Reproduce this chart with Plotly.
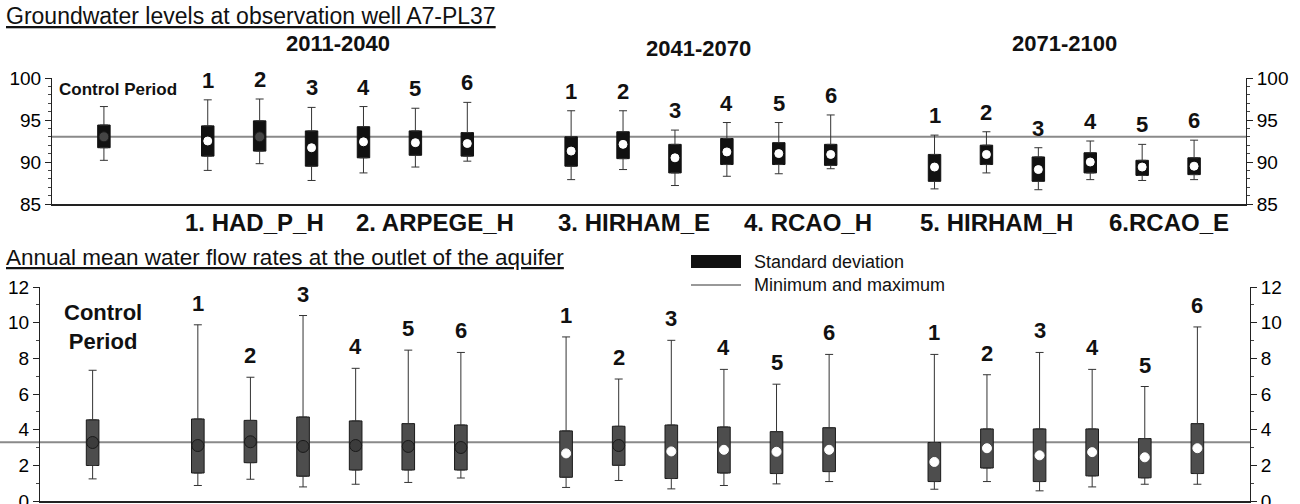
import plotly.graph_objects as go

# ---------------- data ----------------
periods = ["2011-2040", "2041-2070", "2071-2100"]
model_names = ["1. HAD_P_H", "2. ARPEGE_H", "3. HIRHAM_E", "4. RCAO_H", "5. HIRHAM_H", "6.RCAO_E"]
series_labels = ["Control Period",
                 "1", "2", "3", "4", "5", "6",
                 "1", "2", "3", "4", "5", "6",
                 "1", "2", "3", "4", "5", "6"]
# slot on the category axis (control, gap, 6 models, gap, 6 models, gap, 6 models)
slots = [0, 2, 3, 4, 5, 6, 7, 9, 10, 11, 12, 13, 14, 16, 17, 18, 19, 20, 21]
period_centres = [4.5, 11.45, 18.5]

# Groundwater levels at observation well A7-PL37
gw_max = [96.6, 97.4, 97.5, 96.5, 96.6, 96.4, 97.1, 96.1, 96.1, 93.8, 94.7, 94.7, 95.6, 93.2, 93.6, 91.7, 92.5, 92.1, 92.6]
gw_sd_hi = [94.4, 94.3, 94.9, 93.7, 94.2, 93.7, 93.5, 93.0, 93.6, 92.1, 92.8, 92.3, 92.1, 90.9, 92.0, 90.6, 91.1, 90.2, 90.5]
gw_sd_lo = [91.7, 90.7, 91.3, 89.5, 90.5, 90.8, 90.7, 89.5, 90.4, 88.7, 89.7, 89.7, 89.6, 87.7, 89.7, 87.7, 88.7, 88.4, 88.5]
gw_min = [90.2, 89.0, 89.8, 87.8, 88.7, 89.4, 90.1, 87.9, 89.1, 87.2, 88.3, 88.6, 89.2, 86.8, 88.7, 86.7, 87.9, 87.8, 87.9]
gw_mean = [93.0, 92.5, 93.0, 91.7, 92.4, 92.3, 92.2, 91.3, 92.1, 90.5, 91.2, 91.0, 90.9, 89.4, 90.9, 89.1, 90.0, 89.4, 89.5]
gw_control_mean = 93.0
gw_mean_dark = [1, 0, 1, 0, 0, 0, 0, 0, 0, 0, 0, 0, 0, 0, 0, 0, 0, 0, 0]

# Annual mean water flow rates at the outlet of the aquifer
q_max = [7.33, 9.88, 6.94, 10.4, 7.44, 8.46, 8.33, 9.2, 6.84, 9.01, 7.38, 6.55, 8.22, 8.22, 7.08, 8.33, 7.38, 6.42, 9.76]
q_sd_hi = [4.55, 4.6, 4.52, 4.71, 4.49, 4.34, 4.26, 3.93, 4.19, 4.26, 4.15, 3.89, 4.11, 3.28, 4.04, 4.04, 4.04, 3.5, 4.34]
q_sd_lo = [1.99, 1.57, 2.15, 1.39, 1.74, 1.74, 1.74, 1.33, 2.0, 1.26, 1.57, 1.54, 1.65, 1.09, 1.85, 1.09, 1.41, 1.3, 1.54]
q_min = [1.24, 0.87, 1.22, 0.79, 0.94, 1.04, 1.29, 0.76, 1.15, 0.68, 0.87, 0.96, 1.09, 0.66, 1.09, 0.57, 0.79, 0.94, 0.94]
q_mean = [3.28, 3.11, 3.32, 3.06, 3.11, 3.06, 3.0, 2.67, 3.11, 2.78, 2.87, 2.76, 2.87, 2.19, 2.96, 2.56, 2.74, 2.45, 2.96]
q_control_mean = 3.3
q_mean_dark = [1, 1, 1, 1, 1, 1, 1, 0, 1, 0, 0, 0, 0, 0, 0, 0, 0, 0, 0]

gw_ticks = [85, 90, 95, 100]
q_ticks = [0, 2, 4, 6, 8, 10, 12]

# ---------------- layout helpers ----------------
W, H = 1300, 504
def px(x):
    return x / W
def py(y):
    return 1 - y / H

FONT = "Liberation Sans, Arial, sans-serif"
n = len(slots)

fig = go.Figure()

def add_panel(xa, ya, vmax, hi, lo, vmin, mean, dark, box_color, box_line, whisk_color,
              dark_fill, dark_size, white_size):
    fig.add_trace(go.Bar(x=slots, y=[h - l for h, l in zip(hi, lo)], base=lo, width=0.24,
                         marker=dict(color=box_color, line=dict(color=box_line, width=1)),
                         xaxis=xa, yaxis=ya, showlegend=False, hoverinfo="skip"))
    fig.add_trace(go.Scatter(x=slots, y=hi, mode="markers", marker=dict(size=1, opacity=0),
                             error_y=dict(type="data", symmetric=False,
                                          array=[m - h for m, h in zip(vmax, hi)],
                                          arrayminus=[0] * n, width=4, thickness=1, color=whisk_color),
                             xaxis=xa, yaxis=ya, showlegend=False, hoverinfo="skip"))
    fig.add_trace(go.Scatter(x=slots, y=lo, mode="markers", marker=dict(size=1, opacity=0),
                             error_y=dict(type="data", symmetric=False,
                                          array=[0] * n,
                                          arrayminus=[l - m for l, m in zip(lo, vmin)], width=4,
                                          thickness=1, color=whisk_color),
                             xaxis=xa, yaxis=ya, showlegend=False, hoverinfo="skip"))
    fig.add_trace(go.Scatter(
        x=slots, y=mean, mode="markers",
        marker=dict(color=[dark_fill if d else "#ffffff" for d in dark],
                    size=[dark_size if d else white_size for d in dark],
                    opacity=1,
                    line=dict(color=["#1a1a1a" if d else "#ffffff" for d in dark], width=1)),
        xaxis=xa, yaxis=ya, showlegend=False, hoverinfo="skip"))

add_panel("x", "y", gw_max, gw_sd_hi, gw_sd_lo, gw_min, gw_mean, gw_mean_dark,
          "#111111", "#111111", "#333333", "#454545", 10, 8)
add_panel("x2", "y2", q_max, q_sd_hi, q_sd_lo, q_min, q_mean, q_mean_dark,
          "#4d4d4d", "#1a1a1a", "#333333", "#3c3c3c", 12, 9)

# invisible traces so that right-hand mirrored axes are drawn
fig.add_trace(go.Scatter(x=[slots[0]], y=[gw_control_mean], xaxis="x", yaxis="y3", mode="markers",
                         marker=dict(opacity=0), showlegend=False, hoverinfo="skip"))
fig.add_trace(go.Scatter(x=[slots[0]], y=[q_control_mean], xaxis="x2", yaxis="y4", mode="markers",
                         marker=dict(opacity=0), showlegend=False, hoverinfo="skip"))

tickfont = dict(family=FONT, size=19, color="#000000")

def yax(domain, rng, ticks, minor_dtick, anchor, side="left", overlay=None):
    d = dict(domain=domain, range=rng, tickvals=ticks, ticktext=[str(t) for t in ticks],
             ticks="outside", ticklen=6, tickwidth=1, tickcolor="#222",
             minor=dict(dtick=minor_dtick, tick0=rng[0], ticks="outside", ticklen=3, tickcolor="#444"),
             showline=True, linecolor="#222", linewidth=1, showgrid=False, zeroline=False,
             tickfont=tickfont, anchor=anchor, side=side, fixedrange=True, automargin=False,
             ticklabeloverflow="allow")
    if overlay:
        d["overlaying"] = overlay
    return d

x_common = dict(range=[-1, 22], showticklabels=False, ticks="", showgrid=False, zeroline=False,
                showline=True, linecolor="#222", linewidth=1.5, fixedrange=True, automargin=False)

top_dom = [py(204), py(78)]
bot_dom = [py(501), py(287)]

fig.update_layout(
    width=W, height=H, margin=dict(l=0, r=0, t=0, b=0, pad=0, autoexpand=False),
    paper_bgcolor="white", plot_bgcolor="rgba(0,0,0,0)",
    barmode="overlay", showlegend=False,
    xaxis=dict(domain=[px(52), px(1246)], anchor="y", **x_common),
    xaxis2=dict(domain=[px(40), px(1250)], anchor="y2", **x_common),
    yaxis=yax(top_dom, [85, 100], gw_ticks, 1, "x"),
    yaxis3=yax(top_dom, [85, 100], gw_ticks, 1, "x", side="right", overlay="y"),
    yaxis2=yax(bot_dom, [0, 12], q_ticks, 1, "x2"),
    yaxis4=yax(bot_dom, [0, 12], q_ticks, 1, "x2", side="right", overlay="y2"),
)

# control-period reference lines
fig.add_shape(type="line", xref="paper", yref="y", x0=px(52), x1=px(1246),
              y0=gw_control_mean, y1=gw_control_mean, line=dict(color="#8a8a8a", width=2), layer="below")
fig.add_shape(type="line", xref="paper", yref="y2", x0=0, x1=px(1250),
              y0=q_control_mean, y1=q_control_mean, line=dict(color="#8a8a8a", width=2), layer="below")

def ann(text, x, y, size, bold=False, xanchor="center", yanchor="middle", color="#111111"):
    t = f"<b>{text}</b>" if bold else text
    fig.add_annotation(text=t, x=px(x), y=py(y), xref="paper", yref="paper", showarrow=False,
                       xanchor=xanchor, yanchor=yanchor,
                       font=dict(family=FONT, size=size, color=color))

# titles
ann('<span style="text-decoration:underline">Groundwater levels at observation well A7-PL37</span>',
    4, 16, 23, xanchor="left")
ann('<span style="text-decoration:underline">Annual mean water flow rates at the outlet of the aquifer</span>',
    4, 257, 22.5, xanchor="left")

# period headers (centred over each group of six models)
for p, cx, cy in zip(periods, period_centres, [43, 48, 43]):
    fig.add_annotation(text=f"<b>{p}</b>", x=cx, y=py(cy), xref="x", yref="paper", showarrow=False,
                       xanchor="center", yanchor="middle",
                       font=dict(family=FONT, size=22, color="#111111"))

# model name list
for name, cx in zip(model_names, [254, 435, 634, 808, 996, 1169]):
    ann(name, cx, 222, 24, bold=True)

# control period labels
ann(series_labels[0], 57, 89, 17, bold=True, xanchor="left")
ann("Control<br>Period", 103, 327, 22, bold=True)

# model number labels above whiskers
for i in range(1, n):
    fig.add_annotation(text=f"<b>{series_labels[i]}</b>", x=slots[i], y=gw_max[i], xref="x", yref="y",
                       showarrow=False, yanchor="bottom", yshift=5,
                       font=dict(family=FONT, size=22, color="#111111"))
    fig.add_annotation(text=f"<b>{series_labels[i]}</b>", x=slots[i], y=q_max[i], xref="x2", yref="y2",
                       showarrow=False, yanchor="bottom", yshift=7,
                       font=dict(family=FONT, size=22, color="#111111"))

# legend
fig.add_shape(type="rect", xref="paper", yref="paper", x0=px(691), x1=px(741), y0=py(268), y1=py(255),
              fillcolor="#111111", line=dict(width=0))
fig.add_shape(type="line", xref="paper", yref="paper", x0=px(691), x1=px(741), y0=py(285), y1=py(285),
              line=dict(color="#333333", width=1))
ann("Standard deviation", 752, 262, 18, xanchor="left")
ann("Minimum and maximum", 752, 285, 18, xanchor="left")

fig.write_html("out.html", config={"displayModeBar": False},
               post_script="document.body.style.margin='0';document.body.style.overflow='hidden';")
